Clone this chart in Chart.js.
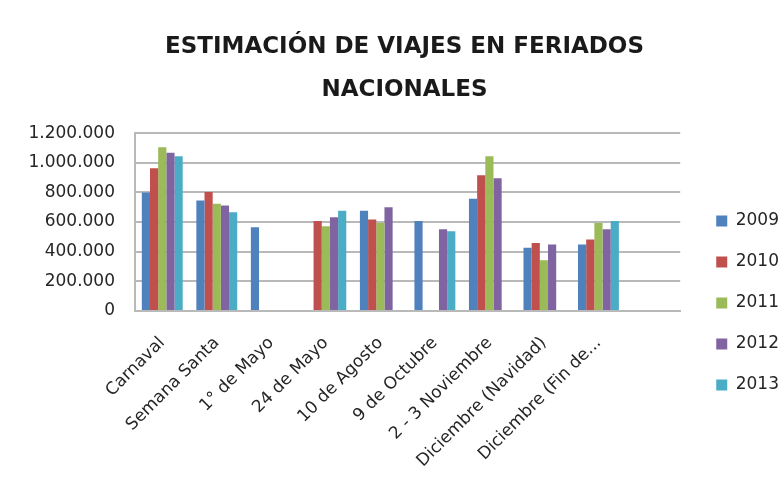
<!DOCTYPE html>
<html>
<head>
<meta charset="utf-8">
<script src="https://cdn.jsdelivr.net/npm/chart.js@4"></script>
<style>
    html, body { margin: 0; padding: 0; background: #fff; }
    #wrap { width: 783px; height: 485px; }
</style>
</head>
<body>
<div id="wrap"><canvas id="chartCanvas"></canvas></div>
<script>
const categories = ["Carnaval", "Semana Santa", "1° de Mayo", "24 de Mayo", "10 de Agosto",
    "9 de Octubre", "2 - 3 Noviembre", "Diciembre (Navidad)", "Diciembre (Fin de...", ""];
const years = ["2009", "2010", "2011", "2012", "2013"];
const values2009 = [800000, 745000, 565000, null, 677000, 607000, 758000, 426000, 448000, null];
const values2010 = [963000, 802000, null, 607000, 618000, null, 916000, 459000, 482000, null];
const values2011 = [1105000, 724000, null, 571000, 594000, null, 1044000, 343000, 594000, null];
const values2012 = [1067000, 711000, null, 632000, 699000, 551000, 896000, 448000, 551000, null];
const values2013 = [1044000, 666000, null, 677000, null, 538000, null, null, 607000, null];
const yMax = 1200000;
const yStep = 200000;
const colors = ["#4F81BD", "#C0504D", "#9BBB59", "#8064A2", "#4BACC6"];

const FONT = "'DejaVu Sans', sans-serif";
const GRID = "#b9b9b9";

/* ----------------------------------------
   DATASETS
---------------------------------------- */
const seriesValues = [values2009, values2010, values2011, values2012, values2013];
const datasets = years.map((year, i) => ({
    label: year,
    data: seriesValues[i],
    backgroundColor: colors[i],
    borderWidth: 0,
    categoryPercentage: 0.75,
    barPercentage: 1.0
}));

// thousands with dots: 1.200.000
function formatDots(v) {
    return String(v).replace(/\B(?=(\d{3})+(?!\d))/g, ".");
}

new Chart(document.getElementById("chartCanvas"), {
    type: "bar",
    data: { labels: categories, datasets: datasets },
    options: {
        responsive: true,
        maintainAspectRatio: false,
        animation: false,
        layout: { padding: { left: 20, right: -6, top: 0, bottom: 0 } },
        plugins: {
            title: {
                display: true,
                text: ["ESTIMACIÓN DE VIAJES EN FERIADOS", "NACIONALES"],
                color: "#1a1a1a",
                font: { family: FONT, size: 23, weight: "bold", lineHeight: 1.85 },
                padding: { top: 26, bottom: 22 }
            },
            legend: {
                position: "right",
                align: "center",
                // empty title only pushes the items down
                title: { display: true, text: " ", padding: 0, font: { size: 10, lineHeight: 12.1 } },
                labels: {
                    boxWidth: 11,
                    boxHeight: 11,
                    padding: 24,
                    color: "#262626",
                    font: { family: FONT, size: 17 }
                }
            },
            tooltip: { enabled: false }
        },
        scales: {
            x: {
                grid: { display: false },
                border: { display: true, color: GRID, width: 2 },
                ticks: {
                    color: "#262626",
                    font: { family: FONT, size: 17 },
                    minRotation: 45,
                    maxRotation: 45,
                    autoSkip: false,
                    padding: 14
                },
                afterFit: (scale) => { scale.height = 174; }
            },
            y: {
                min: 0,
                max: yMax,
                grid: { color: GRID, lineWidth: 2, drawTicks: false },
                border: { display: true, color: GRID, width: 2 },
                ticks: {
                    stepSize: yStep,
                    color: "#262626",
                    font: { family: FONT, size: 17 },
                    padding: 20,
                    callback: (value) => formatDots(value)
                },
                afterFit: (scale) => { scale.width = 115; }
            },
            gap: {
                position: "right",
                display: true,
                grid: { display: false },
                border: { display: false },
                ticks: { display: false },
                afterFit: (scale) => { scale.width = 12; }
            }
        }
    }
});
</script>
</body>
</html>
